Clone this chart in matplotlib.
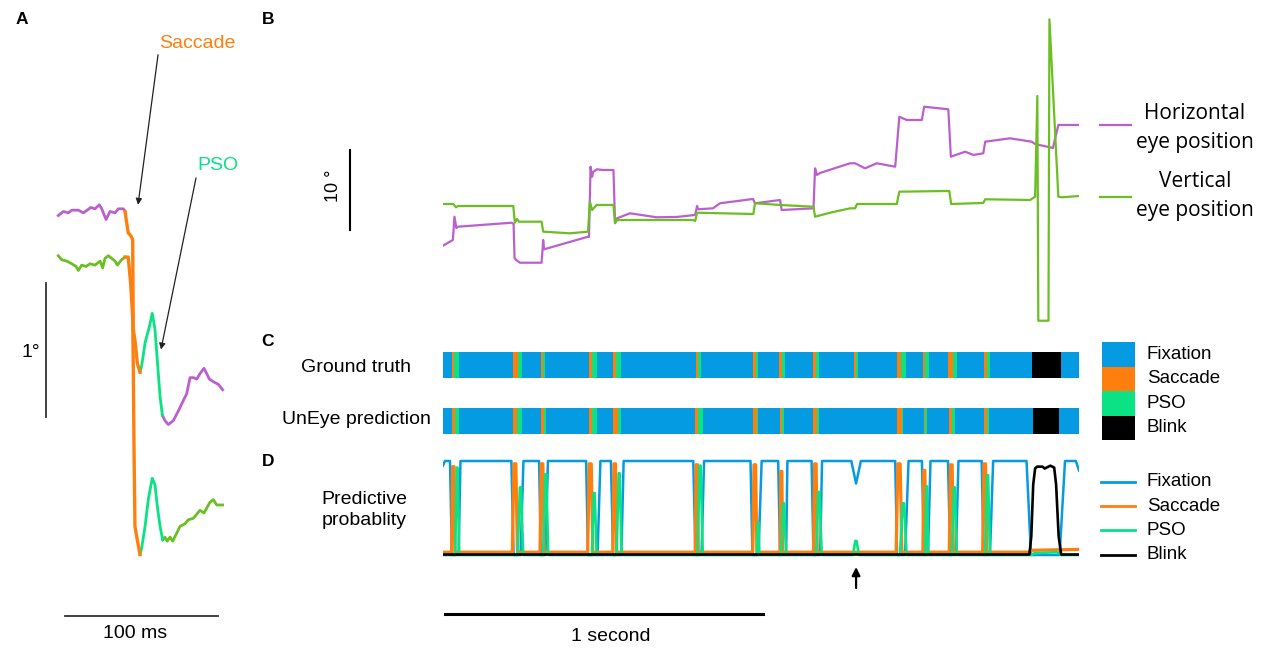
import matplotlib
matplotlib.use("Agg")
import matplotlib.pyplot as plt
from matplotlib.lines import Line2D
from matplotlib.patches import Rectangle

# ---------- colours ----------
C_FIX = '#059BE3'
C_SAC = '#FF7F0E'
C_PSO = '#0BE283'
C_BLK = '#000000'
C_HOR = '#BB5FCF'
C_VER = '#6CBF22'

# ---------- panel A : one saccade (ms, deg) ----------
a_hor_fix1_t = [0.2, 3.5, 6.7, 9.0, 13.3, 16.5, 19.1, 21.4, 24.2, 27.0, 28.6, 31.4, 34.0, 37.3, 39.4, 42.7, 43.8]
a_hor_fix1_y = [2.72, 2.75, 2.74, 2.76, 2.76, 2.74, 2.76, 2.78, 2.77, 2.80, 2.77, 2.69, 2.75, 2.74, 2.77, 2.77, 2.75]
a_hor_sac_t = [43.8, 45.9, 47.5, 48.8, 49.2, 50.3, 51.8, 53.6]
a_hor_sac_y = [2.75, 2.59, 2.57, 2.54, 1.87, 1.79, 1.62, 1.55]
a_hor_pso_t = [53.6, 54.7, 56.9, 59.7, 61.6, 63.4, 64.9, 66.7, 68.2]
a_hor_pso_y = [1.55, 1.60, 1.77, 1.89, 1.99, 1.87, 1.64, 1.37, 1.23]
a_hor_fix2_t = [68.2, 69.9, 72.1, 75.4, 78.6, 81.5, 84.1, 86.3, 88.4, 90.7, 92.8, 95.4, 97.2, 98.9, 101.5, 104.8, 107.6]
a_hor_fix2_y = [1.23, 1.19, 1.16, 1.19, 1.26, 1.33, 1.39, 1.51, 1.51, 1.50, 1.54, 1.58, 1.54, 1.50, 1.48, 1.46, 1.42]

a_ver_fix1_t = [0.2, 2.4, 5.7, 9.0, 11.8, 13.3, 15.5, 18.3, 20.9, 24.2, 27.5, 29.2, 30.7, 32.9, 35.1, 37.3, 38.8, 41.6, 43.8]
a_ver_fix1_y = [2.42, 2.39, 2.38, 2.36, 2.34, 2.31, 2.35, 2.34, 2.36, 2.35, 2.38, 2.33, 2.40, 2.42, 2.40, 2.38, 2.35, 2.39, 2.41]
a_ver_sac_t = [43.8, 45.9, 47.5, 48.8, 49.2, 49.7, 50.3, 51.8, 53.6]
a_ver_sac_y = [2.41, 2.41, 2.21, 1.96, 1.59, 0.97, 0.40, 0.30, 0.19]
a_ver_pso_t = [53.6, 54.7, 56.9, 59.0, 61.6, 63.4, 64.9, 66.7, 68.4]
a_ver_pso_y = [0.19, 0.24, 0.40, 0.60, 0.76, 0.71, 0.55, 0.40, 0.30]
a_ver_fix2_t = [68.4, 69.9, 71.4, 73.2, 75.0, 77.6, 79.7, 83.0, 85.2, 88.4, 92.8, 95.4, 99.3, 101.5, 103.7, 107.6]
a_ver_fix2_y = [0.30, 0.32, 0.29, 0.32, 0.29, 0.35, 0.40, 0.42, 0.45, 0.46, 0.52, 0.50, 0.58, 0.60, 0.56, 0.56]

# ---------- panel B : 2 s of eye position (ms, deg) ----------
b_hor_t = [0, 31, 36, 42, 46, 216, 222, 225, 230, 242, 310, 313, 315, 318, 456, 459, 464, 469, 472, 484,
           503, 536, 541, 547, 588, 672, 735, 793, 799, 802, 849, 871, 975, 981, 1060, 1065, 1165, 1170,
           1176, 1186, 1280, 1296, 1327, 1364, 1422, 1435, 1458, 1506, 1513, 1589, 1597, 1642, 1668, 1699,
           1705, 1783, 1851, 1862, 1918, 1935, 2000]
b_hor_y = [1.79, 2.5, 5.41, 4.0, 4.16, 4.66, 4.5, 0.25, 0.0, -0.34, -0.34, 1.25, 2.5, 1.34, 2.91, 2.88, 11.66,
           10.41, 11.0, 11.34, 11.25, 11.25, 4.63, 5.21, 5.84, 5.34, 5.38, 5.63, 6.75, 6.34, 6.46, 7.09,
           7.63, 7.09, 7.5, 6.25, 6.46, 11.46, 10.63, 10.88, 12.09, 12.09, 11.46, 12.09, 11.66, 17.91,
           17.5, 17.5, 19.16, 18.84, 12.91, 13.54, 13.13, 13.34, 14.79, 15.21, 14.79, 14.5, 14.0, 16.88, 16.88]
b_ver_t = [0, 32, 41, 47, 221, 226, 233, 239, 310, 315, 399, 456, 462, 469, 483, 536, 541, 547, 787, 793,
           799, 976, 981, 1060, 1165, 1170, 1217, 1280, 1296, 1302, 1427, 1435, 1592, 1598, 1699, 1705,
           1846, 1862, 1869, 1872, 1904, 1907, 1935, 1947, 2000]
b_ver_y = [7.0, 7.0, 6.59, 6.75, 6.75, 4.66, 5.13, 4.79, 4.79, 3.54, 3.34, 3.54, 7.29, 6.25, 6.88, 6.88,
           4.59, 5.0, 5.0, 4.88, 5.91, 5.75, 7.09, 6.88, 6.66, 5.41, 5.91, 6.46, 6.46, 7.0, 7.0, 8.54, 8.63,
           7.0, 7.13, 7.59, 7.5, 7.91, 20.5, -7.59, -7.59, 30.09, 7.91, 7.84, 8.0]

# ---------- panel C : event labels (ms) ----------
gt_sac_on = [29, 221, 307, 460, 534, 795, 974, 1058, 1165, 1293, 1427, 1511, 1589, 1701]
gt_sac_off = [36, 235, 314, 470, 545, 801, 985, 1066, 1174, 1300, 1441, 1517, 1604, 1711]
gt_pso_off = [51, 249, 321, 485, 559, 811, 992, 1076, 1183, 1306, 1455, 1528, 1616, 1720]
gt_blink = (1851, 1944)
pr_sac_on = [29, 221, 307, 460, 536, 793, 974, 1060, 1165, 1427, 1513, 1591, 1701]
pr_sac_off = [39, 234, 317, 470, 549, 801, 987, 1067, 1176, 1443, 1517, 1602, 1712]
pr_pso_off = [51, 248, 323, 483, 561, 817, 990, 1072, 1183, 1448, 1523, 1611, 1718]
pr_blink = (1855, 1938)

# ---------- panel D : predicted probabilities ----------
d_fix_t = [0, 6, 22, 28, 49, 55, 215, 222, 244, 253, 302, 308, 322, 330, 450, 456, 486, 495, 528, 535,
           561, 568, 787, 794, 813, 821, 967, 973, 992, 1002, 1054, 1060, 1079, 1083, 1159, 1165, 1186,
           1192, 1284, 1299, 1314, 1422, 1428, 1453, 1464, 1506, 1513, 1525, 1533, 1588, 1595, 1613,
           1621, 1694, 1700, 1720, 1730, 1835, 1849, 1939, 1956, 1990, 2000]
d_fix_p = [0.95, 1, 1, 0, 0, 1, 1, 0, 0, 1, 1, 0, 0, 1, 1, 0, 0, 1, 1, 0, 0, 1, 1, 0, 0, 1, 1, 0, 0, 1,
           1, 0, 0, 1, 1, 0, 0, 1, 1, 0.76, 1, 1, 0, 0, 1, 1, 0, 0, 1, 1, 0, 0, 1, 1, 0, 0, 1, 1, 0, 0, 1,
           1, 0.9]
d_sac_on = [27, 218, 305, 455, 534, 793, 974, 1060, 1165, 1425, 1509, 1592, 1697]
d_sac_off = [38, 234, 318, 471, 546, 803, 987, 1068, 1177, 1443, 1518, 1605, 1710]
d_sac_peak = [0.94, 0.97, 0.97, 0.97, 0.97, 0.96, 0.96, 0.89, 0.97, 0.97, 0.90, 0.96, 0.97]
d_pso_on = [38, 235, 315, 468, 546, 800, 987, 1063, 1173, 1289, 1437, 1516, 1600, 1705]
d_pso_off = [51, 252, 331, 483, 562, 817, 995, 1079, 1191, 1308, 1458, 1526, 1616, 1720]
d_pso_peak = [0.93, 0.72, 0.86, 0.66, 0.87, 0.95, 0.35, 0.55, 0.67, 0.15, 0.55, 0.73, 0.72, 0.85]
d_blink_t = [0, 1844, 1850, 1856, 1862, 1868, 1885, 1892, 1910, 1922, 1928, 1936, 1944, 2000]
d_blink_p = [0.005, 0.005, 0.2, 0.75, 0.92, 0.94, 0.94, 0.92, 0.95, 0.93, 0.75, 0.2, 0.005, 0.005]

labels = ['Fixation', 'Saccade', 'PSO', 'Blink']
colors = [C_FIX, C_SAC, C_PSO, C_BLK]

SANS = ['Liberation Sans', 'DejaVu Sans']
plt.rcParams['font.family'] = SANS

W, H = 1266, 648
fig = plt.figure(figsize=(W / 100, H / 100), dpi=100)


def px_axes(x0, y0, x1, y1):
    ax = fig.add_axes([x0 / W, 1 - y1 / H, (x1 - x0) / W, (y1 - y0) / H])
    ax.set_axis_off()
    return ax


def ftext(x, y, s, **kw):
    fig.text(x / W, 1 - y / H, s, **kw)


# ================= A =================
# 58 px -> 0 ms, 1.53 px/ms ; 580 px -> 0 deg, 134 px/deg
axA = px_axes(0, 0, 250, 648)
axA.set_xlim((0 - 58) / 1.53, (250 - 58) / 1.53)
axA.set_ylim((580 - 648) / 134, 580 / 134)
lw = 2.0
axA.plot(a_ver_fix1_t, a_ver_fix1_y, color=C_VER, lw=lw)
axA.plot(a_ver_fix2_t, a_ver_fix2_y, color=C_VER, lw=lw)
axA.plot(a_hor_fix1_t, a_hor_fix1_y, color=C_HOR, lw=lw)
axA.plot(a_hor_fix2_t, a_hor_fix2_y, color=C_HOR, lw=lw)
axA.plot(a_ver_pso_t, a_ver_pso_y, color=C_PSO, lw=lw)
axA.plot(a_hor_pso_t, a_hor_pso_y, color=C_PSO, lw=lw)
axA.plot(a_ver_sac_t, a_ver_sac_y, color=C_SAC, lw=2.4)
axA.plot(a_hor_sac_t, a_hor_sac_y, color=C_SAC, lw=2.4)
# scale bars
axA.plot([-7.84, -7.84], [1.216, 2.216], color='#333333', lw=1.3, clip_on=False)
axA.plot([4.6, 104.6], [-0.269, -0.269], color='#333333', lw=1.3, clip_on=False)
axA.text(-17.5, 1.70, '1°', fontsize=14, ha='center', va='center')
axA.text(50.3, -0.40, '100 ms', fontsize=14, ha='center', va='center')
axA.annotate('', xy=(52.3, 2.80), xytext=(65.4, 3.92),
             arrowprops=dict(arrowstyle='-|>', color='#222222', lw=0.9, mutation_scale=9, shrinkA=0, shrinkB=0))
axA.annotate('', xy=(67.3, 1.72), xytext=(90.2, 3.0),
             arrowprops=dict(arrowstyle='-|>', color='#222222', lw=0.9, mutation_scale=9, shrinkA=0, shrinkB=0))
ftext(197, 44, 'Saccade', color=C_SAC, fontsize=14, ha='center', va='center')
ftext(218, 165, 'PSO', color=C_PSO, fontsize=14, ha='center', va='center')

# ================= B =================
# 443 px -> 0 ms, 0.318 px/ms ; 260 px -> 0 deg, 8 px/deg
axB = px_axes(443, 0, 1079, 335)
axB.set_xlim(0, 2000)
axB.set_ylim((260 - 335) / 8, 260 / 8)
axB.plot(b_hor_t, b_hor_y, color=C_HOR, lw=1.6)
axB.plot(b_ver_t, b_ver_y, color=C_VER, lw=1.6)
axB.plot([-292, -292], [3.75, 13.75], color='k', lw=1.5, clip_on=False)
ftext(334, 186, '10 °', fontsize=13, rotation=90, ha='center', va='center')
fig.add_artist(Line2D([1100 / W, 1131 / W], [1 - 125 / H, 1 - 125 / H], color=C_HOR, lw=1.6))
fig.add_artist(Line2D([1100 / W, 1131 / W], [1 - 197 / H, 1 - 197 / H], color=C_VER, lw=1.6))
ftext(1195, 128, 'Horizontal\neye position', fontsize=15, family=['Open Sans', 'DejaVu Sans'],
      ha='center', va='center', linespacing=1.5)
ftext(1195, 196, 'Vertical\neye position', fontsize=15, family=['Open Sans', 'DejaVu Sans'],
      ha='center', va='center', linespacing=1.5)

# ================= C =================
axC = px_axes(443, 338, 1079, 448)
axC.set_xlim(0, 2000)
axC.set_ylim(-0.482, 1.482)
bh = 0.464
for row, son, soff, poff, blink in [(1, gt_sac_on, gt_sac_off, gt_pso_off, gt_blink),
                                    (0, pr_sac_on, pr_sac_off, pr_pso_off, pr_blink)]:
    axC.barh(row, 2000, left=0, height=bh, color=C_FIX, edgecolor='none')
    axC.barh([row] * len(son), [b - a for a, b in zip(son, soff)], left=son, height=bh,
             color=C_SAC, edgecolor='none')
    axC.barh([row] * len(soff), [b - a for a, b in zip(soff, poff)], left=soff, height=bh,
             color=C_PSO, edgecolor='none')
    axC.barh(row, blink[1] - blink[0], left=blink[0], height=bh, color=C_BLK, edgecolor='none')
ftext(356, 368, 'Ground truth', fontsize=14, ha='center', va='center')
ftext(356, 420, 'UnEye prediction', fontsize=14, ha='center', va='center')
for i, (lab, col) in enumerate(zip(labels, colors)):
    y0 = 342.3 + i * 24.4
    fig.add_artist(Rectangle((1102 / W, 1 - (y0 + 24.4) / H), 33 / W, 24.4 / H,
                             facecolor=col, edgecolor='none'))
    ftext(1147, y0 + 12.2, lab, fontsize=13.5, ha='left', va='center')

# ================= D =================
# 555 px -> p 0, 94 px per unit
axD = px_axes(443, 440, 1079, 650)
axD.set_xlim(0, 2000)
axD.set_ylim((555 - 650) / 94, (555 - 440) / 94)

sac_t, sac_p = [0], [0.03]
for a, b, h in zip(d_sac_on, d_sac_off, d_sac_peak):
    r = (b - a) * 0.3
    sac_t += [a, a + r, b - r, b]
    sac_p += [0.03, h, h, 0.03]
sac_t += [1840, 1852, 2000]
sac_p += [0.03, 0.05, 0.06]

pso_t, pso_p = [0], [0.0]
for a, b, h in zip(d_pso_on, d_pso_off, d_pso_peak):
    w = b - a
    pso_t += [a, a + 0.4 * w, a + 0.6 * w, b]
    pso_p += [0.0, h, h, 0.0]
pso_t += [1850, 1860, 1930, 1944, 2000]
pso_p += [0.0, 0.02, 0.03, 0.0, 0.0]

axD.plot(d_fix_t, d_fix_p, color=C_FIX, lw=1.8)
axD.plot(sac_t, sac_p, color=C_SAC, lw=2.3)
axD.plot(pso_t, pso_p, color=C_PSO, lw=1.9)
axD.plot(d_blink_t, d_blink_p, color=C_BLK, lw=1.9)
axD.annotate('', xy=(1299, -0.128), xytext=(1299, -0.351), annotation_clip=False,
             arrowprops=dict(arrowstyle='-|>', color='k', lw=1.6, mutation_scale=12, shrinkA=0, shrinkB=0))
axD.plot([6, 1006], [-0.628, -0.628], color='k', lw=2.2, clip_on=False)
axD.text(528, -0.872, '1 second', fontsize=14, ha='center', va='center')
ftext(364, 510, 'Predictive\nprobablity', fontsize=14, ha='center', va='center', linespacing=1.35)
for i, (lab, col) in enumerate(zip(labels, colors)):
    yy = 482 + i * 24.2
    fig.add_artist(Line2D([1101 / W, 1135 / W], [1 - yy / H, 1 - yy / H], color=col, lw=2.0))
    ftext(1147, yy, lab, fontsize=13.5, ha='left', va='center')

# panel letters
for s, x, y in [('A', 22, 20), ('B', 268, 19), ('C', 268, 342), ('D', 268, 461)]:
    ftext(x, y, s, fontsize=12.5, fontweight='bold', ha='center', va='center')

fig.savefig('out.png', dpi=100)
